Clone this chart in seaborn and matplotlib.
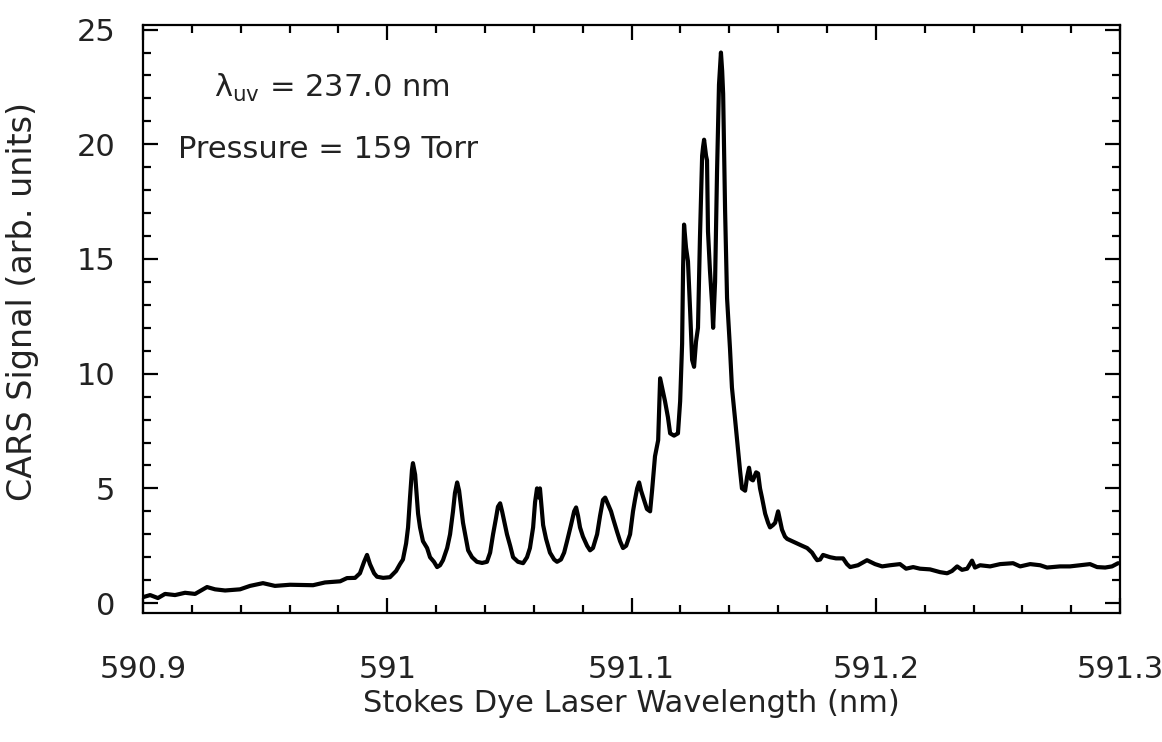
import matplotlib
matplotlib.use("Agg")
import matplotlib.pyplot as plt
from matplotlib.ticker import MultipleLocator
import numpy as np
import pandas as pd
import seaborn as sns

# CARS spectrum: Stokes dye laser wavelength (nm) and signal (arb. units)
wavelength_nm = [
    590.9000, 590.9029, 590.9061, 590.9090, 590.9131, 590.9172, 590.9213, 590.9262,
    590.9295, 590.9336, 590.9397, 590.9438, 590.9491, 590.9540, 590.9602, 590.9696,
    590.9745, 590.9807, 590.9835, 590.9868, 590.9888, 590.9905, 590.9917, 590.9929,
    590.9946, 590.9958, 590.9983, 591.0011, 591.0036, 591.0052, 591.0064, 591.0077,
    591.0085, 591.0093, 591.0101, 591.0105, 591.0114, 591.0126, 591.0134, 591.0146,
    591.0163, 591.0175, 591.0191, 591.0204, 591.0216, 591.0228, 591.0245, 591.0257,
    591.0269, 591.0277, 591.0286, 591.0294, 591.0302, 591.0310, 591.0322, 591.0331,
    591.0347, 591.0367, 591.0388, 591.0408, 591.0421, 591.0433, 591.0445, 591.0453,
    591.0462, 591.0470, 591.0482, 591.0490, 591.0503, 591.0515, 591.0535, 591.0556,
    591.0572, 591.0584, 591.0597, 591.0605, 591.0613, 591.0621, 591.0625, 591.0638,
    591.0650, 591.0666, 591.0683, 591.0695, 591.0711, 591.0724, 591.0736, 591.0752,
    591.0765, 591.0773, 591.0781, 591.0789, 591.0801, 591.0818, 591.0830, 591.0842,
    591.0859, 591.0871, 591.0883, 591.0892, 591.0904, 591.0916, 591.0924, 591.0941,
    591.0953, 591.0965, 591.0978, 591.0994, 591.1006, 591.1014, 591.1023, 591.1031,
    591.1039, 591.1051, 591.1063, 591.1076, 591.1084, 591.1096, 591.1109, 591.1113,
    591.1117, 591.1125, 591.1137, 591.1149, 591.1158, 591.1174, 591.1190, 591.1199,
    591.1207, 591.1211, 591.1215, 591.1223, 591.1231, 591.1240, 591.1248, 591.1256,
    591.1264, 591.1272, 591.1280, 591.1289, 591.1293, 591.1297, 591.1305, 591.1309,
    591.1313, 591.1321, 591.1330, 591.1334, 591.1342, 591.1350, 591.1358, 591.1366,
    591.1371, 591.1375, 591.1383, 591.1391, 591.1403, 591.1411, 591.1424, 591.1436,
    591.1444, 591.1452, 591.1465, 591.1473, 591.1481, 591.1489, 591.1497, 591.1510,
    591.1518, 591.1526, 591.1534, 591.1547, 591.1559, 591.1567, 591.1579, 591.1588,
    591.1600, 591.1608, 591.1616, 591.1628, 591.1637, 591.1657, 591.1678, 591.1698,
    591.1719, 591.1739, 591.1751, 591.1760, 591.1772, 591.1784, 591.1813, 591.1837,
    591.1866, 591.1882, 591.1895, 591.1927, 591.1964, 591.1997, 591.2026, 591.2058,
    591.2099, 591.2124, 591.2153, 591.2181, 591.2222, 591.2263, 591.2292, 591.2312,
    591.2333, 591.2353, 591.2374, 591.2394, 591.2406, 591.2427, 591.2468, 591.2509,
    591.2562, 591.2591, 591.2632, 591.2673, 591.2701, 591.2754, 591.2795, 591.2836,
    591.2877, 591.2906, 591.2939, 591.2967, 591.2992,
]
cars_signal = [
    0.26, 0.35, 0.22, 0.40, 0.35, 0.45, 0.40, 0.70,
    0.60, 0.55, 0.60, 0.75, 0.87, 0.75, 0.80, 0.78,
    0.90, 0.95, 1.09, 1.10, 1.30, 1.80, 2.10, 1.70,
    1.30, 1.15, 1.10, 1.13, 1.40, 1.70, 1.90, 2.60,
    3.30, 4.60, 5.80, 6.10, 5.60, 3.90, 3.30, 2.70,
    2.40, 2.00, 1.80, 1.57, 1.65, 1.87, 2.40, 3.00,
    4.00, 4.80, 5.26, 4.90, 4.20, 3.50, 2.80, 2.30,
    2.00, 1.80, 1.75, 1.80, 2.20, 3.00, 3.70, 4.20,
    4.35, 4.00, 3.40, 3.00, 2.50, 2.00, 1.80, 1.74,
    2.00, 2.40, 3.30, 4.40, 5.00, 4.60, 5.00, 3.40,
    2.80, 2.20, 1.90, 1.80, 1.90, 2.20, 2.70, 3.40,
    4.00, 4.17, 3.80, 3.30, 2.90, 2.50, 2.30, 2.40,
    3.00, 3.80, 4.50, 4.60, 4.30, 4.00, 3.70, 3.10,
    2.70, 2.40, 2.50, 3.00, 4.00, 4.50, 5.00, 5.26,
    4.90, 4.50, 4.10, 4.00, 4.90, 6.40, 7.10, 8.50,
    9.80, 9.40, 8.80, 8.10, 7.40, 7.30, 7.40, 8.80,
    11.30, 14.60, 16.50, 15.50, 14.90, 12.70, 10.60, 10.30,
    11.40, 12.00, 15.90, 19.50, 19.90, 20.20, 19.50, 19.30,
    16.20, 14.50, 13.00, 12.00, 14.00, 18.80, 22.60, 24.00,
    23.20, 22.20, 17.10, 13.30, 11.10, 9.40, 8.00, 6.65,
    5.80, 5.00, 4.90, 5.50, 5.90, 5.40, 5.35, 5.70,
    5.65, 5.00, 4.60, 3.90, 3.50, 3.30, 3.40, 3.50,
    4.00, 3.60, 3.20, 2.90, 2.80, 2.70, 2.60, 2.50,
    2.40, 2.20, 2.00, 1.87, 1.90, 2.10, 2.00, 1.95,
    1.95, 1.70, 1.57, 1.65, 1.87, 1.70, 1.60, 1.65,
    1.70, 1.50, 1.57, 1.50, 1.47, 1.35, 1.30, 1.40,
    1.60, 1.45, 1.50, 1.85, 1.55, 1.65, 1.60, 1.70,
    1.74, 1.60, 1.70, 1.65, 1.55, 1.60, 1.60, 1.65,
    1.70, 1.57, 1.55, 1.60, 1.74,
]

x_ticks = [590.9, 591.0, 591.1, 591.2, 591.3]
x_tick_labels = ["590.9", "591", "591.1", "591.2", "591.3"]
y_ticks = [0, 5, 10, 15, 20, 25]

sns.set_theme(style="ticks")
plt.rcParams["font.family"] = ["DejaVu Sans"]
plt.rcParams["mathtext.fontset"] = "dejavusans"

text_color = "#222222"
df = pd.DataFrame({"wavelength": wavelength_nm, "signal": cars_signal})

fig = plt.figure(figsize=(11.62, 7.42), dpi=100)
ax = fig.add_axes([0.1231, 0.1739, 0.8408, 0.7924])

sns.lineplot(data=df, x="wavelength", y="signal", ax=ax, color="black",
             linewidth=3.0, sort=False)

ax.set_xlim(590.9, 591.3)
ax.set_ylim(-0.43, 25.2)
ax.set_xticks(x_ticks)
ax.set_xticklabels(x_tick_labels)
ax.set_yticks(y_ticks)
ax.xaxis.set_minor_locator(MultipleLocator(0.02))
ax.yaxis.set_minor_locator(MultipleLocator(1))

for side in ["top", "right", "bottom", "left"]:
    ax.spines[side].set_visible(True)
    ax.spines[side].set_linewidth(1.6)
    ax.spines[side].set_color("black")

ax.tick_params(which="both", direction="in", top=True, right=True,
               color="black", width=1.6)
ax.tick_params(which="major", length=11)
ax.tick_params(which="minor", length=6)
ax.tick_params(axis="x", which="major", pad=30, labelsize=22, labelcolor=text_color)
ax.tick_params(axis="y", which="major", pad=20, labelsize=22, labelcolor=text_color)

ax.set_xlabel("Stokes Dye Laser Wavelength (nm)", fontsize=22, color=text_color,
              labelpad=4)
ax.set_ylabel("CARS Signal (arb. units)", fontsize=24, color=text_color)
ax.yaxis.set_label_coords(-0.106, 0.53)

ax.text(0.193, 0.893, "λ$_{\\mathrm{uv}}$ = 237.0 nm", transform=ax.transAxes,
        fontsize=22, color=text_color, ha="center", va="center")
ax.text(0.189, 0.789, "Pressure = 159 Torr", transform=ax.transAxes,
        fontsize=22, color=text_color, ha="center", va="center")

fig.savefig("out.png", dpi=100)
